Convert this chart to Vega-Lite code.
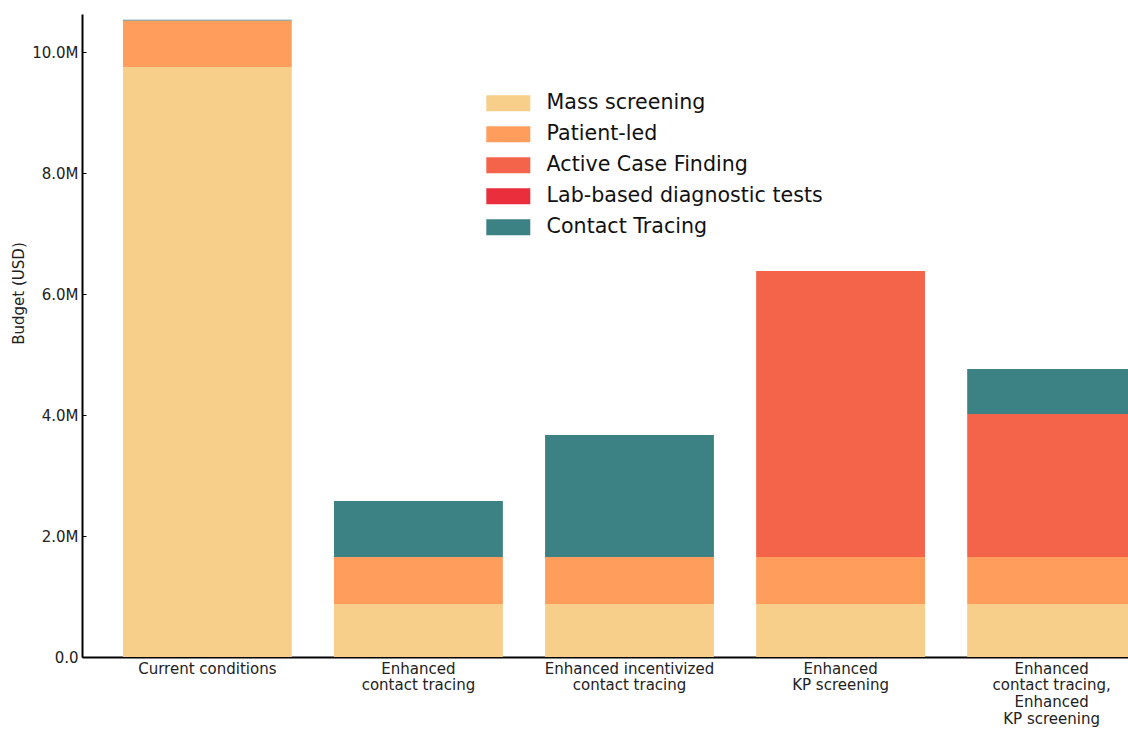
{
  "$schema": "https://vega.github.io/schema/vega-lite/v6.json",
  "autosize": "none",
  "padding": {"left": 82, "top": 14, "right": 0, "bottom": 72},
  "width": 1095,
  "height": 643,
  "background": "white",
  "config": {
    "font": "DejaVu Sans",
    "view": {"stroke": null},
    "axis": {"grid": false, "domainColor": "black", "domainWidth": 2, "tickColor": "black", "labelColor": "#222222", "labelFont": "DejaVu Sans", "labelFontSize": 15, "titleFont": "DejaVu Sans", "titleFontWeight": "normal", "titleColor": "#222222", "titleFontSize": 15}
  },
  "data": {
    "values": [
      {"scenario": "Current conditions", "component": "Mass screening", "ord": 1, "budget": 9752000},
      {"scenario": "Current conditions", "component": "Patient-led", "ord": 2, "budget": 770000},
      {"scenario": "Current conditions", "component": "Active Case Finding", "ord": 3, "budget": 0},
      {"scenario": "Current conditions", "component": "Lab-based diagnostic tests", "ord": 4, "budget": 0},
      {"scenario": "Current conditions", "component": "Contact Tracing", "ord": 5, "budget": 15000},
      {"scenario": "Enhanced\ncontact tracing", "component": "Mass screening", "ord": 1, "budget": 876000},
      {"scenario": "Enhanced\ncontact tracing", "component": "Patient-led", "ord": 2, "budget": 777000},
      {"scenario": "Enhanced\ncontact tracing", "component": "Active Case Finding", "ord": 3, "budget": 0},
      {"scenario": "Enhanced\ncontact tracing", "component": "Lab-based diagnostic tests", "ord": 4, "budget": 0},
      {"scenario": "Enhanced\ncontact tracing", "component": "Contact Tracing", "ord": 5, "budget": 925000},
      {"scenario": "Enhanced incentivized\ncontact tracing", "component": "Mass screening", "ord": 1, "budget": 876000},
      {"scenario": "Enhanced incentivized\ncontact tracing", "component": "Patient-led", "ord": 2, "budget": 777000},
      {"scenario": "Enhanced incentivized\ncontact tracing", "component": "Active Case Finding", "ord": 3, "budget": 0},
      {"scenario": "Enhanced incentivized\ncontact tracing", "component": "Lab-based diagnostic tests", "ord": 4, "budget": 0},
      {"scenario": "Enhanced incentivized\ncontact tracing", "component": "Contact Tracing", "ord": 5, "budget": 2016000},
      {"scenario": "Enhanced\nKP screening", "component": "Mass screening", "ord": 1, "budget": 876000},
      {"scenario": "Enhanced\nKP screening", "component": "Patient-led", "ord": 2, "budget": 777000},
      {"scenario": "Enhanced\nKP screening", "component": "Active Case Finding", "ord": 3, "budget": 4727000},
      {"scenario": "Enhanced\nKP screening", "component": "Lab-based diagnostic tests", "ord": 4, "budget": 0},
      {"scenario": "Enhanced\nKP screening", "component": "Contact Tracing", "ord": 5, "budget": 0},
      {"scenario": "Enhanced\ncontact tracing,\nEnhanced\nKP screening", "component": "Mass screening", "ord": 1, "budget": 876000},
      {"scenario": "Enhanced\ncontact tracing,\nEnhanced\nKP screening", "component": "Patient-led", "ord": 2, "budget": 777000},
      {"scenario": "Enhanced\ncontact tracing,\nEnhanced\nKP screening", "component": "Active Case Finding", "ord": 3, "budget": 2364000},
      {"scenario": "Enhanced\ncontact tracing,\nEnhanced\nKP screening", "component": "Lab-based diagnostic tests", "ord": 4, "budget": 0},
      {"scenario": "Enhanced\ncontact tracing,\nEnhanced\nKP screening", "component": "Contact Tracing", "ord": 5, "budget": 743000}
    ]
  },
  "mark": {"type": "bar", "stroke": null},
  "encoding": {
    "x": {
      "field": "scenario", "type": "nominal", "sort": null,
      "scale": {"paddingInner": 0.2, "paddingOuter": 0.194},
      "axis": {"title": null, "labelAngle": 0, "labelExpr": "split(datum.label, '\\n')", "labelLineHeight": 16.7, "tickSize": -4, "labelPadding": 8, "labelBaseline": "top", "labelLimit": 0}
    },
    "y": {
      "field": "budget", "type": "quantitative", "stack": "zero",
      "scale": {"domain": [0, 10630000], "nice": false, "zero": true},
      "axis": {"title": "Budget (USD)", "values": [0, 2000000, 4000000, 6000000, 8000000, 10000000], "labelExpr": "datum.value == 0 ? '0.0' : format(datum.value / 1000000, '.1f') + 'M'", "tickSize": -4, "labelPadding": 8, "titleX": -64, "titleY": 279, "titleBaseline": "middle", "titleAlign": "center", "titleAngle": -90}
    },
    "color": {
      "field": "component", "type": "nominal",
      "scale": {
        "domain": ["Mass screening", "Patient-led", "Active Case Finding", "Lab-based diagnostic tests", "Contact Tracing"],
        "range": ["#F8CF8A", "#FE9D5C", "#F4644B", "#EA2E3C", "#3C8184"]
      },
      "legend": {
        "title": null, "orient": "none", "legendX": 416, "legendY": 79,
        "symbolType": "M-2.75,-1H2.75V1H-2.75Z", "symbolSize": 256, "symbolStrokeWidth": 0, "symbolOpacity": 1,
        "labelFontSize": 20.6, "labelColor": "#111111", "labelOffset": 28, "rowPadding": 10, "labelFont": "DejaVu Sans", "labelLimit": 0
      }
    },
    "order": {"field": "ord", "type": "quantitative"}
  }
}
